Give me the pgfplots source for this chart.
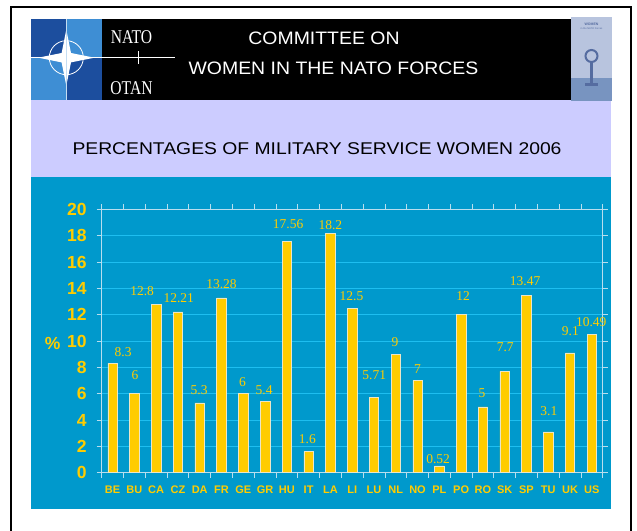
\documentclass[border=0pt]{standalone}
\usepackage{fontspec}
\setmainfont{Liberation Sans}
\newfontfamily\serifnum{Liberation Serif}
\usepackage{pgfplots}
\pgfplotsset{compat=1.18}
\usepackage{pgfplotstable}

\definecolor{bgblue}{RGB}{0,153,204}
\definecolor{gridcyan}{RGB}{30,190,240}
\definecolor{axcol}{RGB}{185,222,238}
\definecolor{baryellow}{RGB}{255,204,0}
\definecolor{baredge}{RGB}{235,230,200}
\definecolor{ycol}{RGB}{255,204,0}
\definecolor{lav}{RGB}{204,204,255}
\definecolor{natodark}{RGB}{28,78,158}
\definecolor{natolight}{RGB}{62,142,212}
\definecolor{logogrey}{RGB}{184,196,222}
\definecolor{logodark}{RGB}{120,148,192}
\definecolor{logofig}{RGB}{85,108,160}

\pgfplotstableread{
x y lab dx dy
0 8.3 8.3 10.5 6
1 6 6 0.7 14
2 12.8 12.8 -14 8
3 12.21 12.21 0.8 9
4 5.3 5.3 -0.6 8
5 13.28 13.28 0 9
6 6 6 -0.7 7
7 5.4 5.4 -1 7
8 17.56 17.56 1.3 12
9 1.6 1.6 -1.3 8
10 18.2 18.2 0 3
11 12.5 12.5 -0.7 7
12 5.71 5.71 0.3 18
13 9 9 -0.7 7
14 7 7 0 7
15 0.52 0.52 -1.2 2
16 12 12 2 14
17 5 5 -1 9
18 7.7 7.7 0.6 19
19 13.47 13.47 -1.4 9
20 3.1 3.1 0.6 16
21 9.1 9.1 0.4 17
22 10.49 10.49 -0.6 8
}\datatable

\begin{document}
\begin{tikzpicture}[x=1pt,y=1pt]
\useasboundingbox (0,0) rectangle (637,530);
\fill[white] (0,0) rectangle (637,530);
% frame
\draw[black, line width=2.2pt] (11,-2) -- (11,523) -- (631,523) -- (631,-2);
% bands
\fill[black] (31,430) rectangle (611,511);
\fill[lav] (31,353) rectangle (611,430);
\fill[bgblue] (31,21) rectangle (611,353);
% NATO logo
\fill[natodark] (31,430) rectangle (101.7,511);
\fill[natolight] (66.3,472.3) rectangle (101.7,511);
\fill[natolight] (31,430) rectangle (66.3,472.3);
\fill[natodark] (66.3,430) rectangle (101.7,472.3);
\draw[white, line width=0.8pt] (66.3,472.3) circle (17);
\fill[white] (66.3,500.3) -- (71,477) -- (94.3,472.3) -- (71,467.6) -- (66.3,444.3) -- (61.6,467.6) -- (38.3,472.3) -- (61.6,477) -- cycle;
\draw[white, line width=0.6pt] (31,472.3) -- (175,472.3);
\draw[white!70!natolight, line width=0.5pt] (66.3,430) -- (66.3,511);
\draw[white, line width=0.8pt] (138,466) -- (138,479);
\node[white, inner sep=0pt, font=\serifnum\fontsize{19.5}{19.5}\selectfont] at (131.5,493.3) {\scalebox{0.8}[1]{NATO}};
\node[white, inner sep=0pt, font=\serifnum\fontsize{19.5}{19.5}\selectfont] at (131.5,441.6) {\scalebox{0.8}[1]{OTAN}};
% right logo
\fill[logogrey] (571,429) rectangle (612,513);
\fill[logodark] (571,429) rectangle (612,452);
\node[logofig, inner sep=0pt, font=\fontsize{3.5}{3.5}\selectfont\bfseries] at (591.5,506) {WOMEN};
\node[logofig, inner sep=0pt, font=\fontsize{2.5}{2.5}\selectfont] at (591.5,501.5) {in the NATO Forces};
\draw[logofig, line width=2pt] (591.5,474) circle (6);
\draw[logofig, line width=2.5pt] (591.5,468) -- (591.5,447);
\fill[logofig] (585,447) rectangle (598,444);
% header texts
\node[white, inner sep=0pt, font=\fontsize{18}{18}\selectfont] at (324,491.5) {\scalebox{1.08}[1]{COMMITTEE ON}};
\node[white, inner sep=0pt, font=\fontsize{18}{18}\selectfont] at (333.5,462) {\scalebox{1.08}[1]{WOMEN IN THE NATO FORCES}};
% title
\node[black, inner sep=0pt, font=\fontsize{17}{17}\selectfont] at (317,381.8) {\scalebox{1.136}[1]{PERCENTAGES OF MILITARY SERVICE WOMEN 2006}};

\begin{axis}[
  at={(101.7pt,57.3pt)}, anchor=south west,
  scale only axis, width=501pt, height=263.4pt,
  xmin=-0.5, xmax=22.5, ymin=0, ymax=20,
  ytick={0,2,...,20},
  xtick={-0.5,0.5,...,22.5},
  xticklabels={BE,BU,CA,CZ,DA,FR,GE,GR,HU,IT,LA,LI,LU,NL,NO,PL,PO,RO,SK,SP,TU,UK,US,{}},
  /pgf/number format/assume math mode=true,
  ymajorgrids,
  major grid style={gridcyan, line width=0.8pt},
  axis line style={axcol, line width=0.8pt},
  tick style={axcol, line width=0.7pt},
  tick align=outside,
  major tick length=5pt,
  yticklabel style={font=\fontsize{17.5}{18}\selectfont\bfseries, text=ycol, inner sep=0pt, anchor=east, xshift=-10pt},
  xticklabel style={font=\fontsize{11}{11}\selectfont\bfseries, text=ycol, inner sep=0pt, anchor=base, xshift=10.89pt, yshift=-16pt},
  ylabel={\%},
  every axis y label/.style={at={(axis description cs:-0.098,0.492)}, anchor=center, font=\fontsize{17.5}{18}\selectfont\bfseries, text=ycol},
]
\addplot[ybar, bar width=9.5pt, bar shift=0pt, fill=baryellow, draw=baredge, line width=0.6pt,
  point meta=explicit symbolic,
  nodes near coords,
  visualization depends on={\thisrow{dx} \as \labdx},
  visualization depends on={\thisrow{dy} \as \labdy},
  every node near coord/.append style={anchor=south, inner sep=0pt, xshift=\labdx pt, yshift=\labdy pt, font=\serifnum\fontsize{13.5}{13.5}\selectfont, text=ycol}
] table[x=x, y=y, meta=lab] {\datatable};
\end{axis}
\end{tikzpicture}
\end{document}
